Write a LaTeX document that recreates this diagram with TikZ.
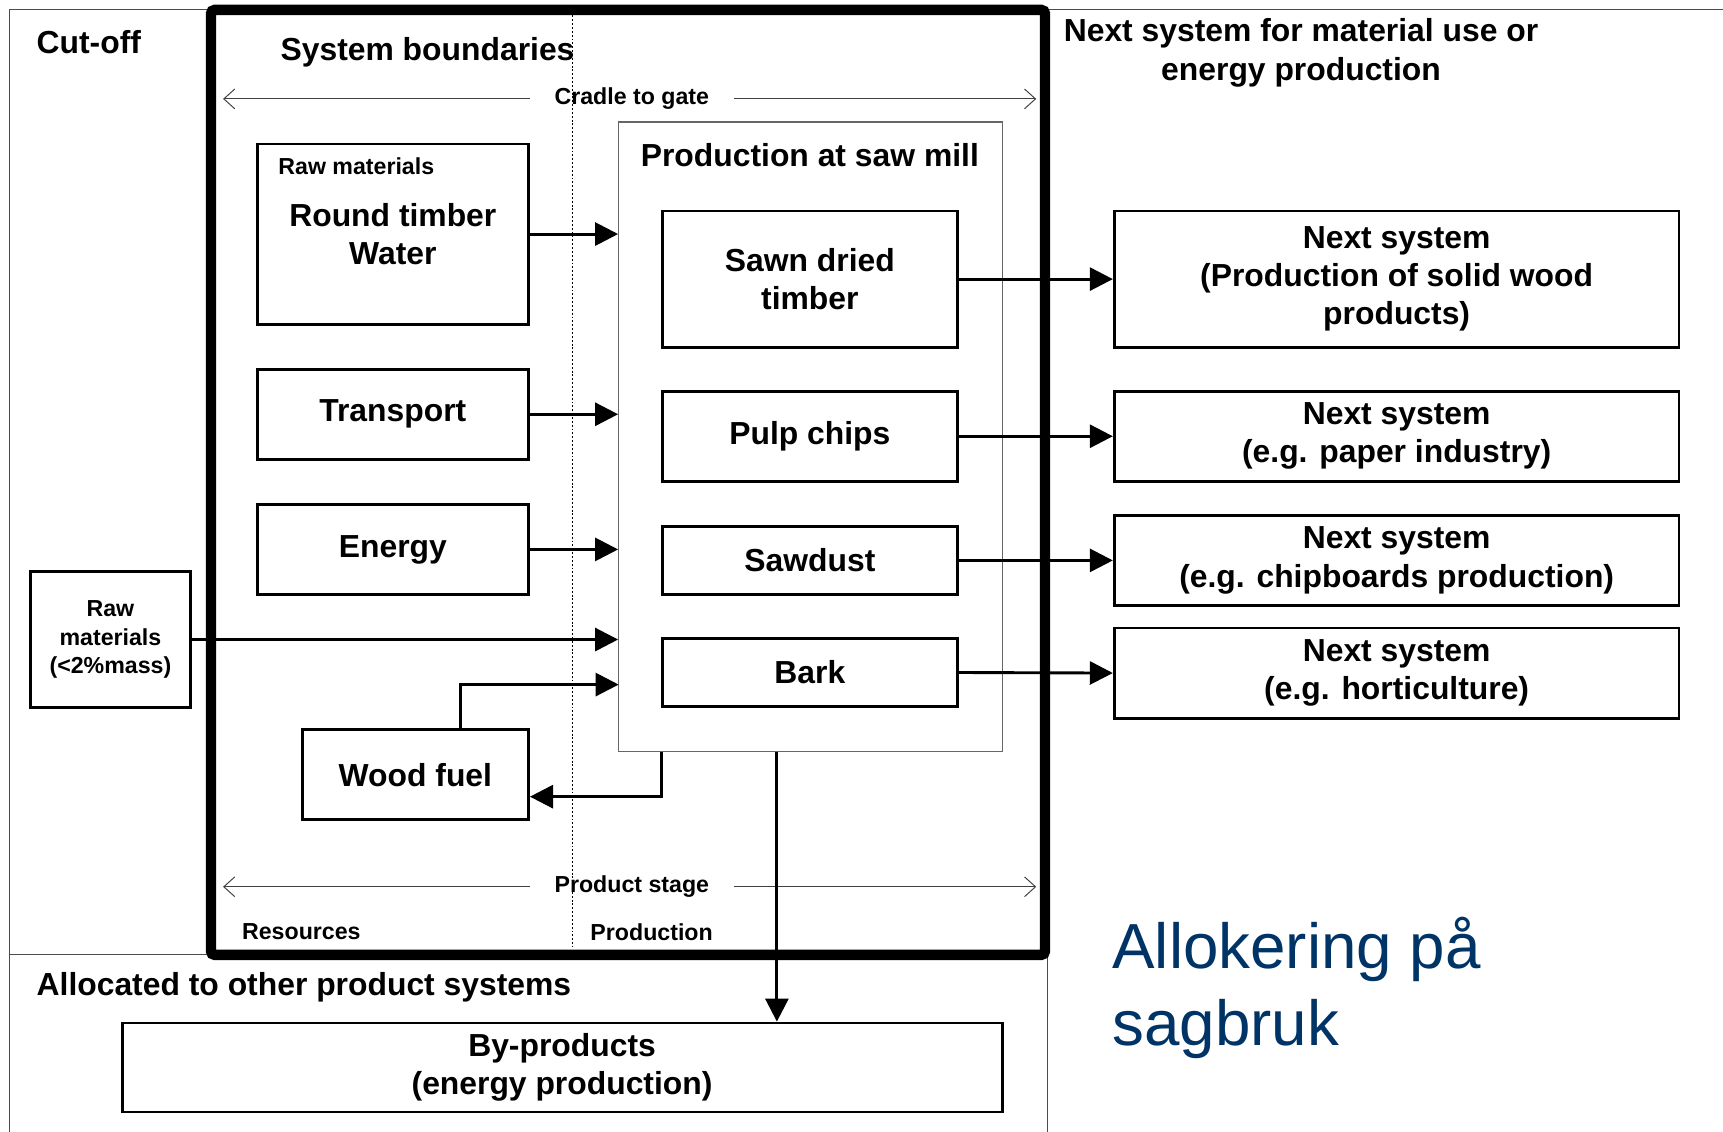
\documentclass[tikz,border=0pt]{standalone}
\usepackage{fontspec}
\setmainfont{Liberation Sans}
\usepackage{xcolor}
\usepackage{tikz}
\usetikzlibrary{arrows.meta, positioning, calc}
\definecolor{titleblue}{RGB}{0,51,102}

\begin{document}
\begin{tikzpicture}[
  x=0.02cm, y=-0.02cm,
  bigtxt/.style={font=\fontsize{16.5}{19.8}\selectfont\bfseries},
  smalltxt/.style={font=\fontsize{12}{14.8}\selectfont\bfseries},
  box/.style={draw, line width=1.5pt, align=center, inner sep=0pt, bigtxt},
  lbl/.style={inner sep=0pt, anchor=west},
  flow/.style={-{Triangle[length=0.42cm, width=0.42cm]}, line width=1.5pt},
  stage/.style={-{Straight Barb[length=0.2cm, width=0.36cm]}, line width=0.5pt, black!75},
  thinline/.style={black!70, line width=0.6pt}
]
  \useasboundingbox (0,0) rectangle (1568,1030);

  % Areas outside the system
  \draw[thinline] (9,1030) -- (9,9) -- (1568,9);
  \draw[thinline] (9,869) -- (192,869);
  \draw[thinline] (953,869) -- (953,1030);
  \node[lbl, bigtxt] (cutoff) at (33,38) {Cut-off};
  \node[lbl, bigtxt] (allocated) at (33,898) {Allocated to other product systems};
  \node[bigtxt, align=center] (nexthead) at (1184,48) {Next system for material use or\\energy production};

  % System boundaries
  \draw[line width=0.19cm, rounded corners=2pt] (192,9) rectangle (951,869);
  \draw[dash pattern=on 1pt off 1pt, line width=0.4pt] (521,14) -- (521,862);
  \node[lbl, bigtxt] (sysbound) at (255,48) {System boundaries};
  \node[lbl, smalltxt] (resources) at (220,848) {Resources};
  \node[lbl, smalltxt] (production) at (537,848) {Production};

  \node[smalltxt, inner xsep=0.45cm] (cradle) at (575,90) {Cradle to gate};
  \coordinate (cradleL) at (203,90);
  \coordinate (cradleR) at (943,90);
  \draw[stage] (cradle.west) -- (cradleL);
  \draw[stage] (cradle.east) -- (cradleR);

  \node[smalltxt, inner xsep=0.45cm] (pstage) at (575,807) {Product stage};
  \coordinate (pstageL) at (203,807);
  \coordinate (pstageR) at (943,807);
  \draw[stage] (pstage.west) -- (pstageL);
  \draw[stage] (pstage.east) -- (pstageR);

  % Resources
  \node[box, minimum width=4.94cm, minimum height=3.28cm] (rawmat) at (357.5,213) {Round timber\\Water};
  \node[lbl, smalltxt] (rawlbl) at (253,151) {Raw materials};
  \node[box, minimum width=4.94cm, minimum height=1.64cm] (transport) at (357.5,377) {Transport};
  \node[box, minimum width=4.94cm, minimum height=1.64cm] (energy) at (357.5,500) {Energy};
  \node[box, minimum width=4.12cm, minimum height=1.64cm] (woodfuel) at (378,705) {Wood fuel};
  \node[box, smalltxt, minimum width=2.9cm, minimum height=2.48cm] (rawsmall) at (100.5,582) {Raw\\materials\\(<2\%mass)};

  % Production at saw mill
  \node[draw=black!60, line width=0.6pt, minimum width=6.98cm, minimum height=11.46cm] (prod) at (737.5,397.5) {};
  \node[bigtxt] (prodtitle) at (737,141) {Production at saw mill};
  \node[box, minimum width=5.36cm, minimum height=2.48cm] (sawn) at (737,254) {Sawn dried\\timber};
  \node[box, minimum width=5.36cm, minimum height=1.64cm] (pulp) at (737,397) {Pulp chips};
  \node[box, minimum width=5.36cm, minimum height=1.24cm] (sawdust) at (737,510) {Sawdust};
  \node[box, minimum width=5.36cm, minimum height=1.24cm] (bark) at (737,612) {Bark};

  % Next systems
  \node[box, minimum width=10.28cm, minimum height=2.48cm] (ns1) at (1271,254) {Next system\\(Production of solid wood\\products)};
  \node[box, minimum width=10.28cm, minimum height=1.64cm] (ns2) at (1271,397) {Next system\\(e.g. paper industry)};
  \node[box, minimum width=10.28cm, minimum height=1.64cm] (ns3) at (1271,510) {Next system\\(e.g. chipboards production)};
  \node[box, minimum width=10.28cm, minimum height=1.64cm] (ns4) at (1271,612.5) {Next system\\(e.g. horticulture)};
  \node[box, minimum width=16.02cm, minimum height=1.62cm] (byprod) at (511.5,971.5) {By-products\\(energy production)};

  % Flows
  \draw[flow] (rawmat.east) -- (rawmat.east -| prod.west);
  \draw[flow] (transport.east) -- (transport.east -| prod.west);
  \draw[flow] (energy.east) -- (energy.east -| prod.west);
  \draw[flow] (rawsmall.east) -- (rawsmall.east -| prod.west);
  \coordinate (wfin) at (563,623);
  \draw[flow] ([xshift=0.82cm]woodfuel.north) |- (wfin);
  \draw[flow] (prod.south -| sawn.west) |- ([yshift=-0.4cm]woodfuel.east);
  \coordinate (bydrop) at (707,684);
  \draw[flow] (bydrop) -- (bydrop |- byprod.north);

  \draw[flow] (sawn.east) -- (ns1.west);
  \draw[flow] (pulp.east) -- (ns2.west);
  \draw[flow] (sawdust.east) -- (ns3.west);
  \draw[flow] (bark.east) -- (ns4.west);

  % Title
  \node[lbl, align=left, text=titleblue, font=\fontsize{33}{39.7}\selectfont] (title) at (1012,899) {Allokering på\\sagbruk};

\end{tikzpicture}
\end{document}
